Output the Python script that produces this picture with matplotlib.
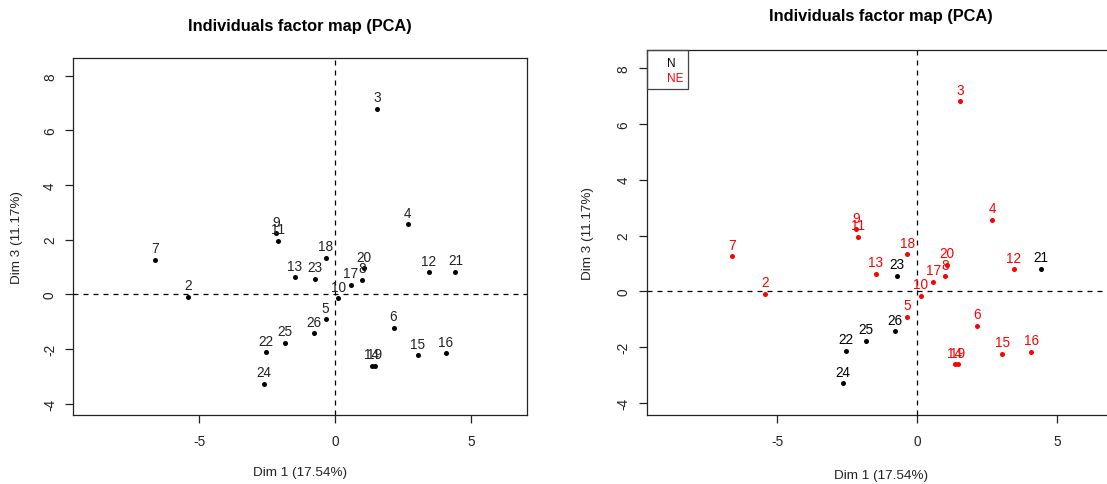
import matplotlib
matplotlib.use("Agg")
import matplotlib.pyplot as plt
from matplotlib.patches import Rectangle

plt.rcParams["font.family"] = ["Liberation Sans", "DejaVu Sans"]
plt.rcParams["axes.unicode_minus"] = False

# individual coordinates (Dim 1, Dim 3)
labels = ["2", "3", "4", "5", "6", "7", "8", "9", "10", "11", "12", "13", "14",
          "15", "16", "17", "18", "19", "20", "21", "22", "23", "24", "25", "26"]
dim1 = [-5.42, 1.54, 2.68, -0.35, 2.15, -6.63, 0.98, -2.17, 0.12, -2.12, 3.45, -1.49, 1.34,
        3.04, 4.07, 0.57, -0.35, 1.45, 1.06, 4.43, -2.54, -0.73, -2.64, -1.84, -0.79]
dim3 = [-0.09, 6.80, 2.57, -0.91, -1.23, 1.26, 0.54, 2.23, -0.15, 1.96, 0.80, 0.63, -2.61,
        -2.23, -2.16, 0.35, 1.33, -2.61, 0.96, 0.82, -2.12, 0.57, -3.28, -1.77, -1.42]
group = ["NE"] * 19 + ["N"] * 6

group_names = ["N", "NE"]
group_colors = {"N": "black", "NE": "#ff0000"}

TITLE = "Individuals factor map (PCA)"
XLAB = "Dim 1 (17.54%)"
YLAB = "Dim 3 (11.17%)"
XLIM = (-9.65, 7.05)
YLIM = (-4.42, 8.65)

W, H = 1107, 485
fig = plt.figure(figsize=(W / 100, H / 100), dpi=100)


def px_axes(x0, y0, x1, y1):
    """Axes from pixel box (left, top, right, bottom)."""
    return fig.add_axes([x0 / W, 1 - y1 / H, (x1 - x0) / W, (y1 - y0) / H])


def draw_map(ax, colored):
    ax.set_xlim(*XLIM)
    ax.set_ylim(*YLIM)
    ax.axhline(0, color="black", lw=0.9, ls=(0, (4, 4)), zorder=1)
    ax.axvline(0, color="black", lw=0.9, ls=(0, (4, 4)), zorder=1)
    for x, y, lab, g in zip(dim1, dim3, labels, group):
        c = group_colors[g] if colored else "black"
        ax.scatter([x], [y], s=13, color=c, zorder=3, linewidths=0)
        ax.annotate(lab, (x, y), xytext=(0, 7.5), textcoords="offset pixels",
                    ha="center", va="baseline", fontsize=9.8,
                    color=c if colored else "#222222", zorder=4)
    ax.set_xticks([-5, 0, 5])
    ax.set_yticks([-4, -2, 0, 2, 4, 6, 8])
    ax.tick_params(length=5.8, width=0.9, labelsize=9.8, colors="#222222")
    ax.tick_params(axis="x", pad=8)
    ax.tick_params(axis="y", labelrotation=90, pad=6)
    for t in ax.get_yticklabels():
        t.set_va("center")
    for s in ax.spines.values():
        s.set_linewidth(0.9)
        s.set_color("#222222")


# left panel
ax1 = px_axes(73.3, 59, 526.5, 416)
draw_map(ax1, False)
fig.text(300 / W, 1 - 26 / H, TITLE, ha="center", va="center",
         fontsize=11.8, fontweight="bold")
fig.text(300 / W, 1 - 473 / H, XLAB, ha="center", va="center", fontsize=9.7, color="#222222")
fig.text(16.8 / W, 1 - 237.5 / H, YLAB, ha="center", va="center", rotation=90,
         fontsize=9.7, color="#222222")

# right panel, coloured by group (cut at the right edge like the source image)
ax2 = px_axes(647, 50.7, 1114.7, 416)
draw_map(ax2, True)
fig.text(880.8 / W, 1 - 16 / H, TITLE, ha="center", va="center",
         fontsize=11.8, fontweight="bold")
fig.text(880.8 / W, 1 - 476 / H, XLAB, ha="center", va="center", fontsize=9.7, color="#222222")
fig.text(588.4 / W, 1 - 233.4 / H, YLAB, ha="center", va="center", rotation=90,
         fontsize=9.7, color="#222222")

# legend box in the top-left corner
lx0, ly0, lx1, ly1 = 647, 50.7, 688.3, 90
fig.patches.append(Rectangle((lx0 / W, 1 - ly1 / H), (lx1 - lx0) / W, (ly1 - ly0) / H,
                             transform=fig.transFigure, fill=False,
                             edgecolor="#444444", lw=0.9))
for i, name in enumerate(group_names):
    fig.text(666.5 / W, 1 - (64.3 + 14.4 * i) / H, name, ha="left", va="center",
             fontsize=8.5, color=group_colors[name])

fig.savefig("out.png", dpi=100)
